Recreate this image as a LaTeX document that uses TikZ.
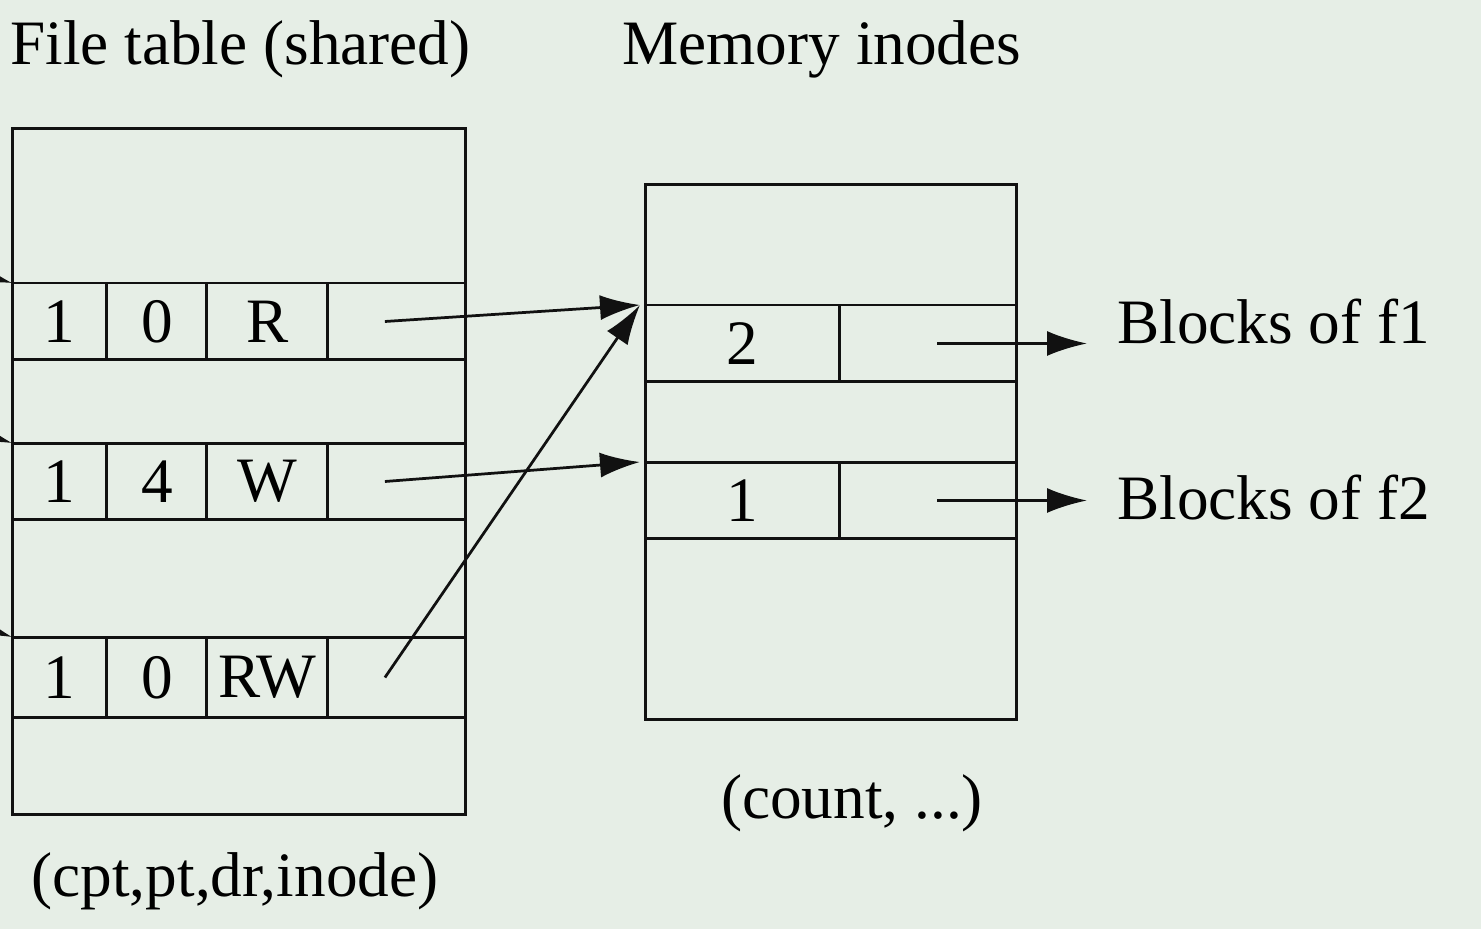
\documentclass[tikz,border=0pt]{standalone}
\usepackage{fontspec}
\setmainfont{Liberation Serif}
\usepackage{tikz}
\usetikzlibrary{arrows.meta, positioning, calc}
\definecolor{paper}{HTML}{E6EEE6}
\definecolor{ink}{HTML}{111111}
\tikzset{
  % table frames and cells
  frame/.style={rectangle, draw=ink, line width=0.06cm, inner sep=0pt, outer sep=0pt},
  cell/.style={rectangle, draw=ink, line width=0.06cm, inner sep=0pt, outer sep=0pt,
               minimum height=1.54cm, font=\fontsize{36}{40}\selectfont},
  % pointers
  ptr/.style={-{Latex[length=0.8cm, width=0.5cm]}, draw=ink, line width=0.055cm},
  % captions
  caption/.style={font=\fontsize{36}{40}\selectfont, inner sep=0pt},
}

\begin{document}
\begin{tikzpicture}[x=0.02cm, y=-0.02cm]

\fill[paper] (0,0) rectangle (1481,929);
\clip (0,0) rectangle (1481,929);

% ── Titles ───────────────────────────────────────────────────────────────────
\node[caption, anchor=west] (ftitle) at (10,49)  {File table (shared)};
\node[caption, anchor=west] (ititle) at (622,49) {Memory inodes};

% ── File table ───────────────────────────────────────────────────────────────
\node[frame, minimum width=9.08cm, minimum height=13.74cm] (ftab) at (239,471.5) {};

\node[cell, minimum width=1.9cm,  anchor=north west] (fa1) at (12,283) {1};
\node[cell, minimum width=2.0cm,  right=0pt of fa1] (fb1) {0};
\node[cell, minimum width=2.42cm, right=0pt of fb1] (fc1) {R};
\node[cell, minimum width=2.76cm, right=0pt of fc1] (fp1) {};

\node[cell, minimum width=1.9cm,  anchor=north west] (fa2) at (12,443) {1};
\node[cell, minimum width=2.0cm,  right=0pt of fa2] (fb2) {4};
\node[cell, minimum width=2.42cm, right=0pt of fb2] (fc2) {W};
\node[cell, minimum width=2.76cm, right=0pt of fc2] (fp2) {};

\node[cell, minimum height=1.62cm, minimum width=1.9cm, anchor=north west] (fa3) at (12,637) {1};
\node[cell, minimum height=1.62cm, minimum width=2.0cm,  right=0pt of fa3] (fb3) {0};
\node[cell, minimum height=1.62cm, minimum width=2.42cm, right=0pt of fb3] (fc3) {RW};
\node[cell, minimum height=1.62cm, minimum width=2.76cm, right=0pt of fc3] (fp3) {};

\node[caption] (fcap) at (235,881) {(cpt,pt,dr,inode)};

% ── Memory inodes ────────────────────────────────────────────────────────────
\node[frame, minimum width=7.44cm, minimum height=10.72cm] (itab) at (831,452) {};

\node[cell, minimum width=3.9cm,  anchor=north west] (ic1) at (645,305) {2};
\node[cell, minimum width=3.54cm, right=0pt of ic1] (ip1) {};

\node[cell, minimum width=3.9cm,  anchor=north west] (ic2) at (645,462) {1};
\node[cell, minimum width=3.54cm, right=0pt of ic2] (ip2) {};

\node[caption] (icap) at (852,803) {(count, ...)};

% ── Blocks ───────────────────────────────────────────────────────────────────
\node[caption, anchor=west, inner xsep=0.78cm] (blk1) at (1078,322) {Blocks of f1};
\node[caption, anchor=west, inner xsep=0.78cm] (blk2) at (1078,498) {Blocks of f2};

% ── Incoming pointers (cut off at the left edge) ────────────────────────────
\coordinate (in1) at (-60,262);
\coordinate (in2) at (-60,420);
\coordinate (in3) at (-60,612);

% ── Arrows ───────────────────────────────────────────────────────────────────
\draw[ptr] (in1) -- (fa1.north west);
\draw[ptr] (in2) -- (fa2.north west);
\draw[ptr] (in3) -- (fa3.north west);

\draw[ptr] ([xshift=-0.24cm]fp1.center) -- ([xshift=-0.1cm]ic1.north west);
\draw[ptr] ([xshift=-0.24cm]fp2.center) -- ([xshift=-0.1cm]ic2.north west);
\draw[ptr] ([xshift=-0.24cm]fp3.center) -- ([xshift=-0.1cm]ic1.north west);

\draw[ptr] ([xshift=0.18cm]ip1.center) -- ([xshift=0.18cm]ip1.center -| blk1.west);
\draw[ptr] ([xshift=0.18cm]ip2.center) -- ([xshift=0.18cm]ip2.center -| blk2.west);

\end{tikzpicture}
\end{document}
